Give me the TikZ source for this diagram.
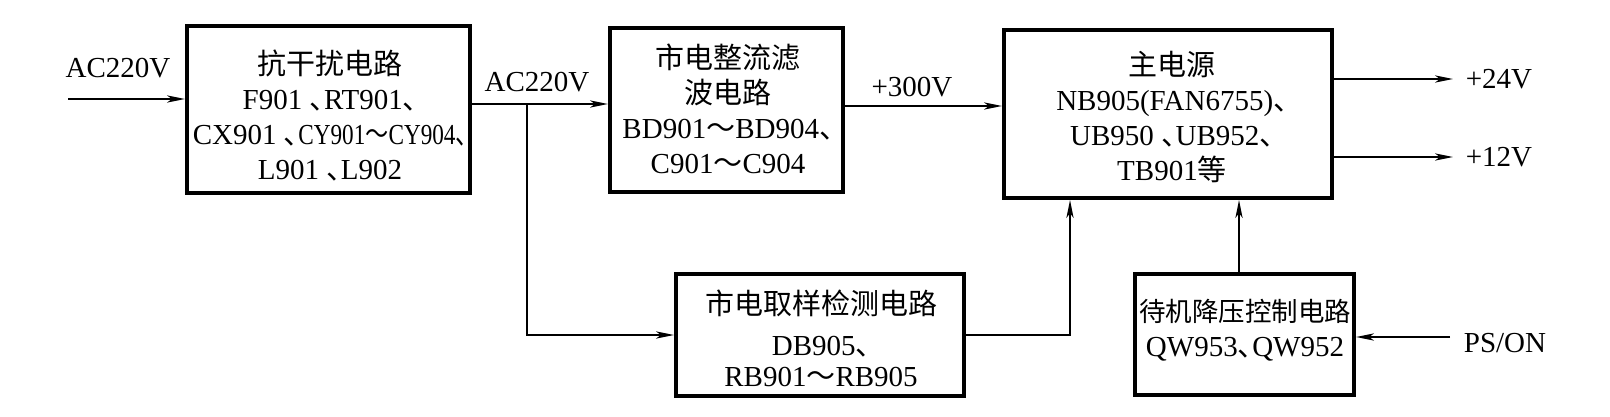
\documentclass[tikz,border=0pt]{standalone}
\usepackage{fontspec}
\usepackage{graphicx}
\setmainfont{Liberation Serif}
\newfontfamily\cjk{Noto Sans CJK SC}
\usetikzlibrary{arrows.meta}
\newcommand{\zh}[1]{{\cjk #1}}
\newcommand{\dun}{\makebox[0.5em][l]{\cjk 、}}
\begin{document}
\begin{tikzpicture}[x=0.5pt,y=-0.5pt,
  blk/.style={draw, line width=2pt, inner sep=0pt},
  txt/.style={align=center, inner sep=0pt, font=\fontsize{14.5}{17.5}\selectfont},
  conn/.style={line width=1pt},
  arr/.style={conn, -{Stealth[length=9pt,width=3.6pt,inset=2.5pt]}},
]
\useasboundingbox[fill=white] (0,0) rectangle (1610,417);
% boxes
\node[blk, minimum width=141.5pt, minimum height=83.5pt] (b1) at (328.5,109.5) {};
\node[blk, minimum width=116.5pt, minimum height=82pt] (b2) at (726.5,110) {};
\node[blk, minimum width=164pt, minimum height=84pt] (m) at (1168,114) {};
\node[blk, minimum width=144pt, minimum height=61pt] (b3) at (820,335) {};
\node[blk, minimum width=109.5pt, minimum height=60.5pt] (b4) at (1244.5,334.5) {};
% box texts
\node[txt] (t1) at (330,116) {\zh{抗干扰电路}\\F901 \dun RT901\dun\\CX901 \dun\scalebox{0.8}[1]{CY901\zh{～}CY904\dun}\\L901 \dun L902};
\node[txt] (t2) at (728,108.5) {\zh{市电整流滤}\\\zh{波电路}\\BD901\zh{～}BD904\dun\\C901\zh{～}C904};
\node[txt] (t3) at (1172,116.5) {\zh{主电源}\\NB905(FAN6755)\dun\\UB950 \dun UB952\dun\\TB901\zh{等}};
\node[txt] (t4) at (821,338) {\zh{市电取样检测电路}\\[3pt]DB905\dun\\[-2pt]RB901\zh{～}RB905};
\node[txt] (t5) at (1245,330.5) {{\fontsize{13.25}{17.5}\selectfont\zh{待机降压控制电路}}\\QW953\dun QW952};
% labels
\node[txt] (l1) at (118,68) {AC220V};
\node[txt] (l2) at (537,82) {AC220V};
\node[txt] (l3) at (912,87) {+300V};
\node[txt] (l4) at (1499,79) {+24V};
\node[txt] (l5) at (1499,157) {+12V};
\node[txt] (l6) at (1505,343) {PS/ON};
% connector points
\coordinate (in) at (68,99);
\coordinate (br) at (527,104);
\coordinate (v3) at (912,106);
\coordinate (o24) at (1453,79);
\coordinate (o12) at (1453,157);
\coordinate (j1) at (1070,336);
\coordinate (j2) at (1239,0);
\coordinate (ps) at (1450,337);
% connectors
\draw[arr] (in) -- (in -| b1.west);
\draw[arr] (br -| b1.east) -- (br -| b2.west);
\draw[arr] (br) |- (b3.west);
\draw[arr] (v3 -| b2.east) -- (v3 -| m.west);
\draw[arr] (o24 -| m.east) -- (o24);
\draw[arr] (o12 -| m.east) -- (o12);
\draw[arr] (b3.east) -| (j1 |- m.south);
\draw[arr] (j2 |- b4.north) -- (j2 |- m.south);
\draw[arr] (ps) -- (ps -| b4.east);
\end{tikzpicture}
\end{document}
